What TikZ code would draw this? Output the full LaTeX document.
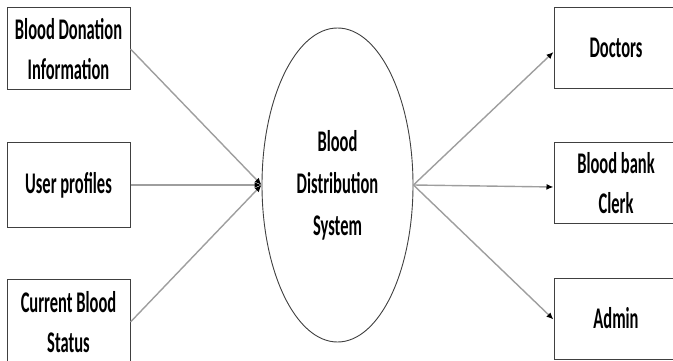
\documentclass[tikz,border=0pt]{standalone}
\usepackage{fontspec}
\newfontfamily\lbl{Carlito}[FakeStretch=0.55]
\usetikzlibrary{arrows.meta,shapes.geometric}
\begin{document}
\begin{tikzpicture}[x=1pt,y=-1pt,
  box/.style={draw=black!75,line width=1pt,rectangle,fill=white,inner sep=0pt,
    font=\lbl\bfseries\fontsize{30}{40}\selectfont,align=center},
  lbox/.style={box,minimum width=123pt},
  rbox/.style={box,minimum width=124pt},
  proc/.style={draw=black!75,line width=0.9pt,ellipse,fill=white,inner sep=0pt,
    minimum width=151pt,minimum height=314pt,
    font=\lbl\bfseries\fontsize{30}{42}\selectfont,align=center},
  flow/.style={draw=black!38,line width=1.4pt,
    -{Latex[black,length=7pt,width=6pt]}}]
\useasboundingbox (0,0) rectangle (673,361);
\clip (0,0) rectangle (673,361);
\node[proc] (sys) at (337.5,185) {Blood\\Distribution\\System};
\node[lbox,minimum height=82pt] (bdi) at (68.5,49) {Blood Donation\\Information};
\node[lbox,minimum height=84pt] (up) at (68.5,185) {User profiles};
\node[lbox,minimum height=86pt] (cbs) at (68.5,322) {Current Blood\\Status};
\node[rbox,minimum height=81pt] (doc) at (616,48) {Doctors};
\node[rbox,minimum height=80pt] (clk) at (616,183) {Blood bank\\Clerk};
\node[rbox,minimum height=81pt] (adm) at (616,318.5) {Admin};
\draw[flow] (bdi.east) -- (sys.west);
\draw[flow] (up.east) -- (sys.west);
\draw[flow] (cbs.east) -- (sys.west);
\draw[flow] (sys.east) -- ([yshift=-4pt]doc.west);
\draw[flow] (sys.east) -- ([yshift=-4pt]clk.west);
\draw[flow] (sys.east) -- ([yshift=-1pt]adm.west);
\end{tikzpicture}
\end{document}
